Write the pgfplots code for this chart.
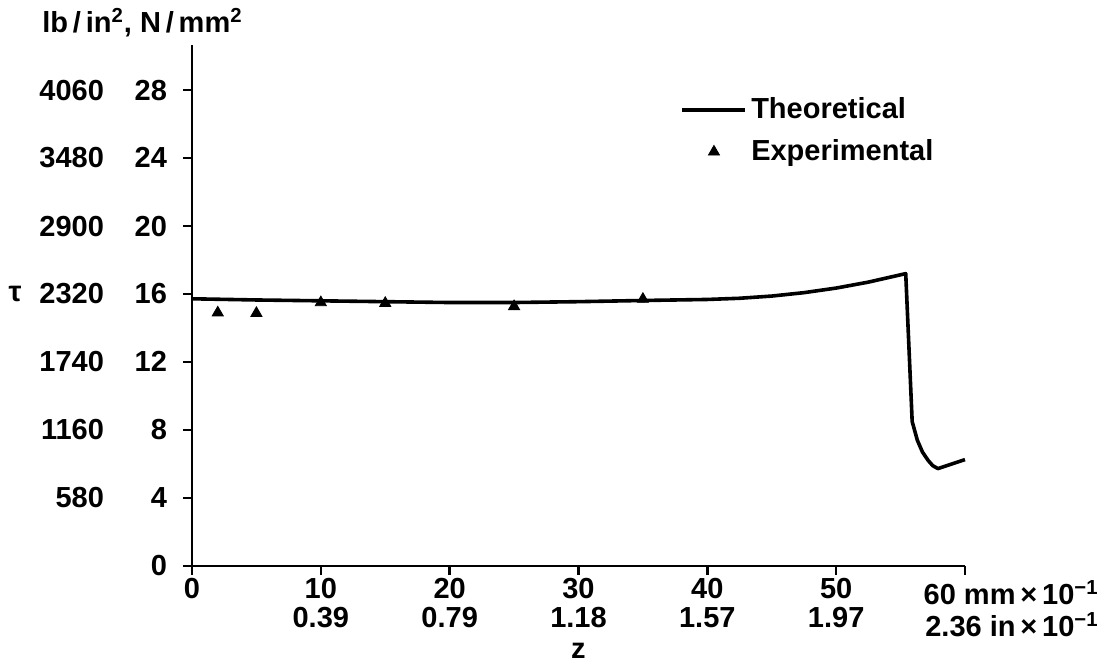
\documentclass[border=0pt]{standalone}
\usepackage{fontspec}
\setmainfont{Liberation Sans}
\usepackage{pgfplots}
\pgfplotsset{compat=1.18}
\newcommand{\tl}[2]{#1\makebox[31.5pt][r]{#2}}
\newcommand{\ff}{\fontsize{14.5}{14.5}\selectfont\bfseries}
\pgfplotsset{
  mylineleg/.style={legend image code/.code={\draw[#1] (0pt,0pt) -- (31.5pt,0pt);}},
  mymarkleg/.style={legend image code/.code={\draw[mark repeat=2,mark phase=2,#1] plot coordinates {(0pt,0pt)(15.75pt,0pt)(31.5pt,0pt)};}},
}
\begin{document}
\begin{tikzpicture}[font=\ff]
\begin{axis}[
  scale only axis, width=386.5pt, height=260.5pt,
  xmin=0, xmax=60, ymin=0, ymax=30.65,
  axis lines*=left,
  axis line style={line width=1.3pt},
  tick align=outside, major tick length=4.5pt,
  tick style={line width=1.2pt, black},
  xtick={0,10,...,60}, ytick={0,4,...,28},
  xticklabels={0,10\\0.39,20\\0.79,30\\1.18,40\\1.57,50\\1.97,},
  xticklabel style={align=center, font=\ff, yshift=2pt},
  yticklabels={\tl{}{0},\tl{580}{4},\tl{1160}{8},\tl{1740}{12},\tl{2320}{16},\tl{2900}{20},\tl{3480}{24},\tl{4060}{28}},
  yticklabel style={font=\ff, xshift=-4.5pt},
  clip=false,
  legend style={draw=none, fill=none, at={(axis cs:37.9,27.8)}, anchor=north west,
    inner sep=0pt, row sep=5pt, font=\ff},
  legend cell align=left,
]
\addplot[black, line width=1.8pt, line join=round, mylineleg]
  coordinates {(0,15.72)(5,15.65)(10,15.6)(15,15.55)(20,15.5)(25,15.5)(30,15.55)(35,15.62)(40,15.68)(42.5,15.75)(45,15.88)(47.5,16.08)(50,16.35)(52.5,16.7)(55.4,17.2)(55.9,8.5)(56.3,7.4)(56.7,6.7)(57.15,6.2)(57.5,5.9)(57.9,5.73)(60,6.26)};
\addlegendentry{Theoretical}
\addplot[only marks, mark=triangle*, mark size=3.2pt, black, mymarkleg]
  coordinates {(2,14.9)(5,14.87)(10,15.5)(15,15.46)(25,15.27)(35,15.7)};
\addlegendentry{Experimental}
\node[anchor=base west, inner sep=0pt, xshift=-75pt, yshift=6pt] at (rel axis cs:0,1) {lb\,/\,in\textsuperscript{2}, N\,/\,mm\textsuperscript{2}};
\node[anchor=center, xshift=-88.5pt] at (axis cs:0,16) {τ};
\node[anchor=north, yshift=-35pt] at (axis cs:30,0) {z};
\node[anchor=north east, align=right, inner sep=0pt, xshift=67pt, yshift=-7pt, font=\ff] at (axis cs:60,0) {60 mm\,×\,10\textsuperscript{−1}\\[1.5pt]2.36 in\,×\,10\textsuperscript{−1}};
\coordinate (o) at (rel axis cs:0,0);
\end{axis}
\path (o) ++(-96pt,-51.5pt) rectangle ++(557.5pt,334.5pt);
\end{tikzpicture}
\end{document}
